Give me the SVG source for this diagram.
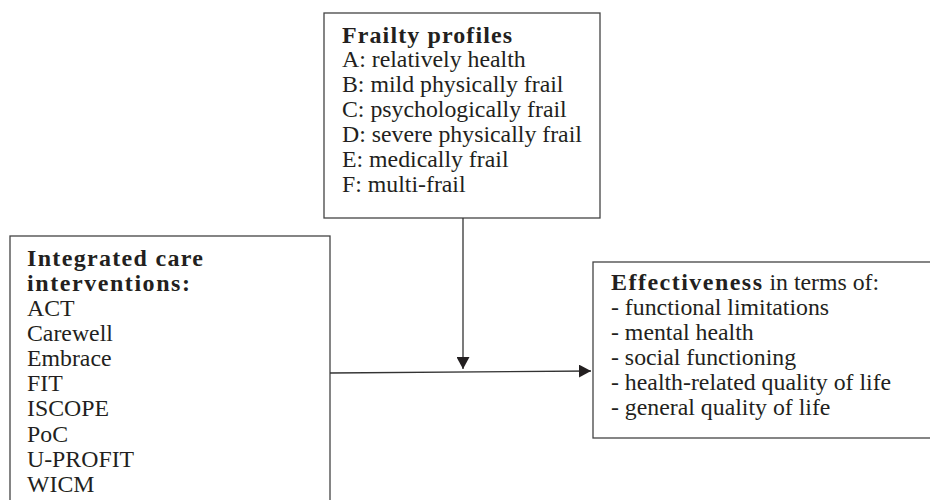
<svg xmlns="http://www.w3.org/2000/svg" width="930" height="500" viewBox="0 0 930 500">
<defs>
<style>
.box{fill:#fff;stroke:#444;stroke-width:1.3}
text{font-family:"Liberation Serif","Times New Roman",serif;font-size:23.8px;fill:#231f20}
.b{font-weight:bold;font-size:24px}
.ln{stroke:#333;stroke-width:1.3;fill:none}
</style>
<marker id="ah" viewBox="0 0 12 13" refX="12" refY="6.5" markerWidth="12" markerHeight="13" markerUnits="userSpaceOnUse" orient="auto">
<path d="M0,0 L12,6.5 L0,13 Z" fill="#231f20"/>
</marker>
</defs>
<rect width="930" height="500" fill="#fff"/>
<g id="frailty">
<rect class="box" x="324" y="13" width="276" height="205"/>
<text x="342" y="43" class="b" textLength="170" lengthAdjust="spacing">Frailty profiles</text>
<text x="342" y="67">A: relatively health</text>
<text x="342" y="92">B: mild physically frail</text>
<text x="342" y="117">C: psychologically frail</text>
<text x="342" y="142">D: severe physically frail</text>
<text x="342" y="167">E: medically frail</text>
<text x="342" y="192">F: multi-frail</text>
</g>
<g id="interventions">
<rect class="box" x="10" y="236" width="320" height="280"/>
<text x="27" y="266" class="b" textLength="176" lengthAdjust="spacing">Integrated care</text>
<text x="27" y="291" class="b" textLength="163" lengthAdjust="spacing">interventions:</text>
<text x="27" y="316">ACT</text>
<text x="27" y="341">Carewell</text>
<text x="27" y="366">Embrace</text>
<text x="27" y="391">FIT</text>
<text x="27" y="416">ISCOPE</text>
<text x="27" y="442">PoC</text>
<text x="27" y="467">U-PROFIT</text>
<text x="27" y="492">WICM</text>
</g>
<g id="effectiveness">
<rect class="box" x="593" y="262" width="350" height="176"/>
<text x="611" y="290"><tspan class="b" textLength="151" lengthAdjust="spacing">Effectiveness</tspan> in terms of:</text>
<text x="611" y="315">- functional limitations</text>
<text x="611" y="340">- mental health</text>
<text x="611" y="365">- social functioning</text>
<text x="611" y="390">- health-related quality of life</text>
<text x="611" y="415">- general quality of life</text>
</g>
<g id="connectors">
<line class="ln" x1="463" y1="218" x2="463" y2="369" marker-end="url(#ah)"/>
<line class="ln" x1="330" y1="373" x2="591" y2="371" marker-end="url(#ah)"/>
</g>
</svg>
